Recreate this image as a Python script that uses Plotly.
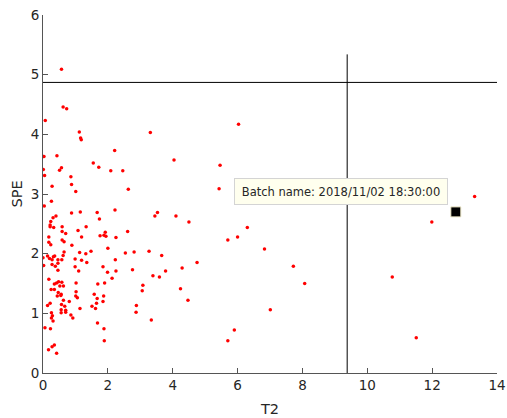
import plotly.graph_objects as go

# T2 / SPE values
t2 = [0.57, 0.62, 0.73, 0.07, 1.12, 1.16, 1.18, 3.31, 6.03, 2.21,
      0.03, 0.43, 4.04, 1.55, 1.72, 0.01, 0.57, 0.51, 2.09, 2.46,
      0.05, 0.86, 0.88, 0.28, 2.63, 1.01, 5.46, 5.43, 0.26, 0.04,
      2.22, 0.88, 1.15, 1.67, 3.53, 3.45, 4.10, 0.40, 0.31, 1.74,
      0.24, 4.50, 0.22, 0.22, 0.33, 0.59, 1.33, 1.08, 0.59, 0.70,
      1.92, 2.61, 1.88, 1.76, 1.94, 0.18, 1.19, 2.25, 0.59, 0.65,
      0.18, 0.24, 0.89, 2.00, 1.48, 3.27, 0.65, 1.13, 1.32, 2.54,
      2.81, 3.66, 0.62, 0.00, 0.14, 0.20, 0.32, 0.36, 0.28, 0.46,
      0.58, 0.99, 1.19, 1.35, 2.23, 4.75, 0.02, 0.28, 0.38, 0.46,
      0.99, 1.10, 0.46, 1.85, 1.99, 2.25, 4.29, 3.78, 3.39, 3.59,
      2.76, 2.13, 1.90, 1.69, 1.02, 0.18, 0.42, 0.48, 0.58, 0.35,
      0.63, 0.52, 0.35, 0.25, 0.47, 0.55, 0.56, 0.44, 1.02, 1.01,
      1.06, 1.58, 1.87, 3.08, 3.06, 4.24, 4.47, 1.67, 1.65, 1.85,
      1.51, 1.62, 0.63, 0.22, 0.14, 0.81, 0.57, 0.67, 0.70, 0.56,
      0.70, 0.26, 0.29, 0.56, 1.14, 0.86, 0.92, 0.26, 0.31, 2.88,
      2.87, 3.34, 1.68, 1.88, 1.89, 0.06, 0.23, 0.35, 0.28, 0.17,
      0.42, 6.30, 6.00, 5.70, 6.83, 7.72, 8.07, 7.01, 5.90, 5.70,
      13.31, 11.99, 10.77, 11.51]
spe = [5.09, 4.46, 4.43, 4.23, 4.04, 3.94, 3.91, 4.03, 4.17, 3.73,
       3.63, 3.64, 3.57, 3.52, 3.45, 3.41, 3.44, 3.40, 3.39, 3.39,
       3.31, 3.29, 3.16, 3.13, 3.08, 3.04, 3.48, 3.09, 2.88, 2.80,
       2.73, 2.68, 2.70, 2.69, 2.69, 2.63, 2.63, 2.63, 2.60, 2.58,
       2.54, 2.53, 2.48, 2.45, 2.44, 2.45, 2.45, 2.39, 2.37, 2.34,
       2.36, 2.37, 2.31, 2.30, 2.29, 2.28, 2.28, 2.27, 2.23, 2.20,
       2.19, 2.15, 2.14, 2.09, 2.04, 2.04, 2.03, 2.02, 2.00, 2.01,
       2.03, 1.97, 1.97, 1.93, 1.96, 1.92, 1.95, 1.96, 1.90, 1.90,
       1.90, 1.91, 1.89, 1.85, 1.90, 1.85, 1.80, 1.82, 1.79, 1.84,
       1.78, 1.71, 1.72, 1.78, 1.69, 1.71, 1.76, 1.71, 1.63, 1.61,
       1.73, 1.59, 1.51, 1.49, 1.51, 1.57, 1.51, 1.53, 1.52, 1.49,
       1.46, 1.46, 1.40, 1.40, 1.35, 1.30, 1.32, 1.29, 1.36, 1.29,
       1.26, 1.32, 1.29, 1.47, 1.38, 1.41, 1.22, 1.25, 1.17, 1.20,
       1.12, 1.08, 1.22, 1.17, 1.13, 1.20, 1.15, 1.12, 1.05, 1.06,
       1.02, 1.01, 0.96, 1.01, 1.08, 0.97, 0.92, 0.92, 0.87, 1.13,
       1.02, 0.89, 0.84, 0.74, 0.54, 0.76, 0.74, 0.47, 0.44, 0.39,
       0.33, 2.44, 2.28, 2.23, 2.08, 1.79, 1.50, 1.06, 0.72, 0.54,
       2.96, 2.53, 1.61, 0.59]

# selected batch
sel_t2 = [12.73]
sel_spe = [2.70]
sel_label = "Batch name: 2018/11/02 18:30:00"

# control limits
t2_limit = 9.38
spe_limit = 4.87
t2_line_top = 5.34
x_range = [0, 14]
y_range = [0, 6]
x_ticks = [0, 2, 4, 6, 8, 10, 12, 14]
y_ticks = [0, 1, 2, 3, 4, 5, 6]

axis_col = "#555555"
text_col = "#262626"
font_fam = "DejaVu Sans"

fig = go.Figure()
fig.add_trace(go.Scatter(x=x_range, y=[spe_limit, spe_limit], mode="lines",
                         line=dict(color="black", width=1), hoverinfo="skip"))
fig.add_trace(go.Scatter(x=[t2_limit, t2_limit], y=[0, t2_line_top], mode="lines",
                         line=dict(color="black", width=1), hoverinfo="skip"))
fig.add_trace(go.Scatter(x=t2, y=spe, mode="markers",
                         marker=dict(color="#ff0000", size=3.5, line=dict(width=0))))
fig.add_trace(go.Scatter(x=sel_t2, y=sel_spe, mode="markers",
                         marker=dict(color="black", size=10, symbol="square",
                                     line=dict(color="#eee8c8", width=1))))

fig.add_annotation(x=9.18, y=3.05, xref="x", yref="y", text=sel_label,
                   showarrow=False, font=dict(family=font_fam, size=11.5, color=text_col),
                   bgcolor="#ffffee", bordercolor="#d4d4d4", borderwidth=1,
                   borderpad=4, width=204, height=17)

axis_common = dict(showgrid=False, zeroline=False, showline=True, linecolor=axis_col,
                   linewidth=1, ticks="inside", ticklen=5, tickcolor=axis_col,
                   tickfont=dict(family=font_fam, size=13.5, color=text_col),
                   mirror=False, automargin=False)
fig.update_xaxes(range=x_range, tickvals=x_ticks, **axis_common,
                 title=dict(text="T2", font=dict(family=font_fam, size=14.5, color=text_col),
                            standoff=11))
fig.update_yaxes(range=y_range, tickvals=y_ticks, **axis_common,
                 title=dict(text="SPE", font=dict(family=font_fam, size=14.5, color=text_col),
                            standoff=4))

fig.update_layout(width=507, height=418, showlegend=False,
                  margin=dict(l=43, r=10, t=15, b=44.5, pad=0),
                  plot_bgcolor="white", paper_bgcolor="white",
                  font=dict(family=font_fam))

fig.write_html("out.html", config={"displayModeBar": False},
               post_script="document.body.style.margin='0px';document.body.style.overflow='hidden';")
